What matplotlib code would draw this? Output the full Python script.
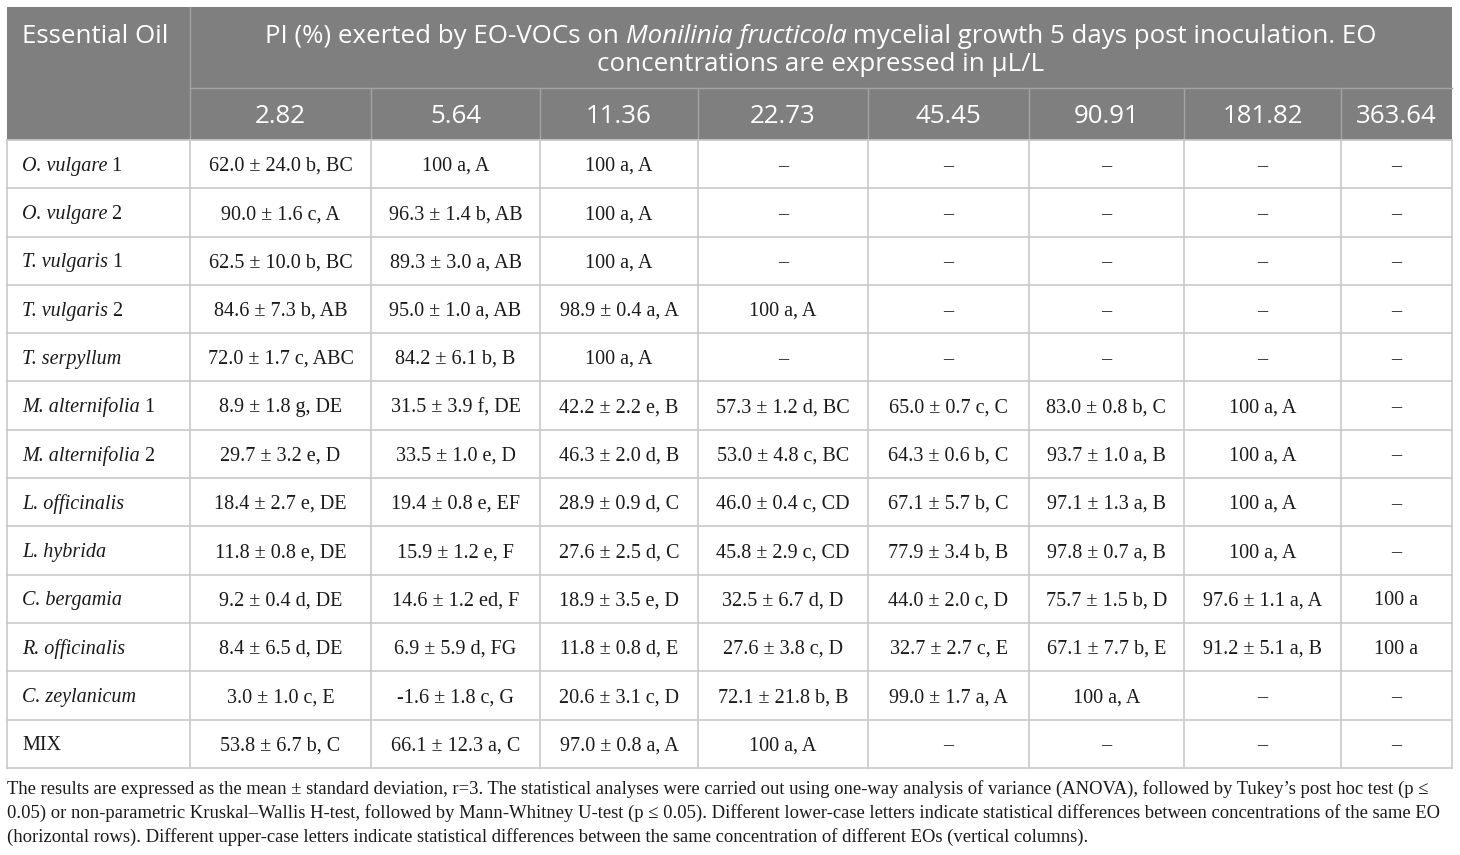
import matplotlib
matplotlib.use("Agg")
import matplotlib.pyplot as plt
from matplotlib.patches import Rectangle

# table content
concentrations = ["2.82", "5.64", "11.36", "22.73", "45.45", "90.91", "181.82", "363.64"]

# (italic part, upright part)
oils = [
    ("O. vulgare", " 1"),
    ("O. vulgare", " 2"),
    ("T. vulgaris", " 1"),
    ("T. vulgaris", " 2"),
    ("T. serpyllum", ""),
    ("M. alternifolia", " 1"),
    ("M. alternifolia", " 2"),
    ("L. officinalis", ""),
    ("L. hybrida", ""),
    ("C. bergamia", ""),
    ("R. officinalis", ""),
    ("C. zeylanicum", ""),
    ("", "MIX"),
]

D = "\u2013"
pi_values = [
    ["62.0 ± 24.0 b, BC", "100 a, A", "100 a, A", D, D, D, D, D],
    ["90.0 ± 1.6 c, A", "96.3 ± 1.4 b, AB", "100 a, A", D, D, D, D, D],
    ["62.5 ± 10.0 b, BC", "89.3 ± 3.0 a, AB", "100 a, A", D, D, D, D, D],
    ["84.6 ± 7.3 b, AB", "95.0 ± 1.0 a, AB", "98.9 ± 0.4 a, A", "100 a, A", D, D, D, D],
    ["72.0 ± 1.7 c, ABC", "84.2 ± 6.1 b, B", "100 a, A", D, D, D, D, D],
    ["8.9 ± 1.8 g, DE", "31.5 ± 3.9 f, DE", "42.2 ± 2.2 e, B", "57.3 ± 1.2 d, BC",
     "65.0 ± 0.7 c, C", "83.0 ± 0.8 b, C", "100 a, A", D],
    ["29.7 ± 3.2 e, D", "33.5 ± 1.0 e, D", "46.3 ± 2.0 d, B", "53.0 ± 4.8 c, BC",
     "64.3 ± 0.6 b, C", "93.7 ± 1.0 a, B", "100 a, A", D],
    ["18.4 ± 2.7 e, DE", "19.4 ± 0.8 e, EF", "28.9 ± 0.9 d, C", "46.0 ± 0.4 c, CD",
     "67.1 ± 5.7 b, C", "97.1 ± 1.3 a, B", "100 a, A", D],
    ["11.8 ± 0.8 e, DE", "15.9 ± 1.2 e, F", "27.6 ± 2.5 d, C", "45.8 ± 2.9 c, CD",
     "77.9 ± 3.4 b, B", "97.8 ± 0.7 a, B", "100 a, A", D],
    ["9.2 ± 0.4 d, DE", "14.6 ± 1.2 ed, F", "18.9 ± 3.5 e, D", "32.5 ± 6.7 d, D",
     "44.0 ± 2.0 c, D", "75.7 ± 1.5 b, D", "97.6 ± 1.1 a, A", "100 a"],
    ["8.4 ± 6.5 d, DE", "6.9 ± 5.9 d, FG", "11.8 ± 0.8 d, E", "27.6 ± 3.8 c, D",
     "32.7 ± 2.7 c, E", "67.1 ± 7.7 b, E", "91.2 ± 5.1 a, B", "100 a"],
    ["3.0 ± 1.0 c, E", "-1.6 ± 1.8 c, G", "20.6 ± 3.1 c, D", "72.1 ± 21.8 b, B",
     "99.0 ± 1.7 a, A", "100 a, A", D, D],
    ["53.8 ± 6.7 b, C", "66.1 ± 12.3 a, C", "97.0 ± 0.8 a, A", "100 a, A", D, D, D, D],
]

title_line1 = [("PI (%) exerted by EO-VOCs on ", "normal"), ("Monilinia fructicola", "italic"),
               (" mycelial growth 5 days post inoculation. EO", "normal")]
title_line2 = "concentrations are expressed in µL/L"

footnote = [
    "The results are expressed as the mean ± standard deviation, r=3. The statistical analyses were carried out using one-way analysis of variance (ANOVA), followed by Tukey\u2019s post hoc test (p \u2264",
    "0.05) or non-parametric Kruskal\u2013Wallis H-test, followed by Mann-Whitney U-test (p \u2264 0.05). Different lower-case letters indicate statistical differences between concentrations of the same EO",
    "(horizontal rows). Different upper-case letters indicate statistical differences between the same concentration of different EOs (vertical columns).",
]

# layout (pixel coordinates)
W, H = 1460, 855
col_edges = [7, 190, 371, 540, 698, 868, 1029, 1184, 1341, 1452]
top, mid_head, head_bottom, row_h = 7, 88, 140, 48.3
head_bg = "#7f7f7f"
head_line = "#a3a3a3"
grid = "#c9c9c9"
txt = "#1a1a1a"
sans = "Open Sans"
serif = "Liberation Serif"
head_fs, body_fs, note_fs = 18.6, 14.5, 13.4

fig = plt.figure(figsize=(W / 100, H / 100), dpi=100)
ax = fig.add_axes([0, 0, 1, 1])
ax.set_xlim(0, W)
ax.set_ylim(H, 0)
ax.axis("off")
renderer = fig.canvas.get_renderer()


def seg_text(x, y, parts, ha="center", **kw):
    # draw text pieces with mixed styles on one baseline
    widths = []
    for s, st in parts:
        t = ax.text(0, 0, s, fontstyle=st, **kw)
        widths.append(t.get_window_extent(renderer).width)
        t.remove()
    x0 = x - sum(widths) / 2 if ha == "center" else x
    for (s, st), w in zip(parts, widths):
        ax.text(x0, y, s, fontstyle=st, ha="left", va="baseline", **kw)
        x0 += w


n_rows = len(oils)
bottom = head_bottom + n_rows * row_h

# header background
ax.add_patch(Rectangle((col_edges[0], top), col_edges[-1] - col_edges[0], head_bottom - top,
                       facecolor=head_bg, edgecolor="none"))
ax.plot([col_edges[1], col_edges[1]], [top, head_bottom], color=head_line, lw=1)
ax.plot([col_edges[1], col_edges[-1]], [mid_head, mid_head], color=head_line, lw=1)
for xe in col_edges[2:-1]:
    ax.plot([xe, xe], [mid_head, head_bottom], color=head_line, lw=1)

# body grid
for i in range(n_rows + 1):
    y = head_bottom + i * row_h
    ax.plot([col_edges[0], col_edges[-1]], [y, y], color=grid, lw=1.2)
for xe in col_edges:
    ax.plot([xe, xe], [head_bottom, bottom], color=grid, lw=1.2)

# header text
ax.text(22, 43, "Essential Oil", color="white", fontsize=head_fs, family=sans,
        ha="left", va="baseline")
cx = (col_edges[1] + col_edges[-1]) / 2
seg_text(cx, 43, title_line1, color="white", fontsize=head_fs, family=sans)
ax.text(cx, 71, title_line2, color="white", fontsize=head_fs, family=sans,
        ha="center", va="baseline")
for j, c in enumerate(concentrations):
    ax.text((col_edges[j + 1] + col_edges[j + 2]) / 2, 123, c, color="white",
            fontsize=head_fs, family=sans, ha="center", va="baseline")

# body text
for i, (it, up) in enumerate(oils):
    yb = head_bottom + (i + 0.5) * row_h + 6.6
    parts = []
    if it:
        parts.append((it, "italic"))
    if up:
        parts.append((up, "normal"))
    seg_text(22, yb, parts, ha="left", color=txt, fontsize=body_fs, family=serif)
    for j, v in enumerate(pi_values[i]):
        ax.text((col_edges[j + 1] + col_edges[j + 2]) / 2, yb, v, color=txt,
                fontsize=body_fs, family=serif, ha="center", va="baseline")

# footnote
for k, line in enumerate(footnote):
    ax.text(7, 794 + k * 24, line, color=txt, fontsize=note_fs, family=serif,
            ha="left", va="baseline")

fig.savefig("out.png", dpi=100, facecolor="white")
